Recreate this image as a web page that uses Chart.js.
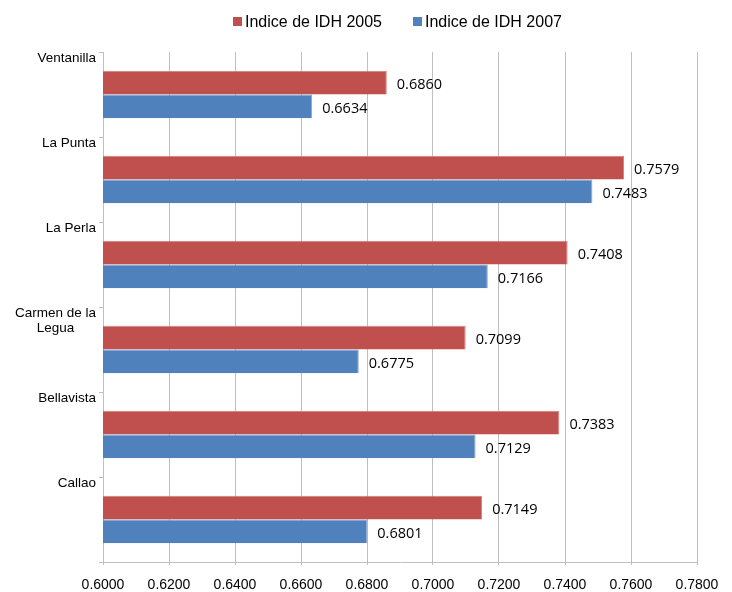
<!DOCTYPE html>
<html>
<head>
<meta charset="utf-8">
<script src="https://cdn.jsdelivr.net/npm/chart.js@4"></script>
<style>
    html, body { margin: 0; padding: 0; background: #ffffff; }
    #wrap { width: 732px; height: 592px; position: relative; }
</style>
</head>
<body>
<div id="wrap"><canvas id="idh-chart"></canvas></div>
<script>
// --- Data ---
const categories = ['Ventanilla', 'La Punta', 'La Perla', 'Carmen de la Legua', 'Bellavista', 'Callao'];
const seriesNames = ['Indice de IDH 2005', 'Indice de IDH 2007'];
const idh2005 = [0.6860, 0.7579, 0.7408, 0.7099, 0.7383, 0.7149];
const idh2007 = [0.6634, 0.7483, 0.7166, 0.6775, 0.7129, 0.6801];
const xTicks = [0.60, 0.62, 0.64, 0.66, 0.68, 0.70, 0.72, 0.74, 0.76, 0.78];

const RED = '#C0504D';
const BLUE = '#4F81BD';
const GRID = '#BFBFBF';

// split long names onto lines of at most 12 characters
function wrapLabel(text) {
    const lines = [''];
    text.split(' ').forEach(w => {
        const cur = lines[lines.length - 1];
        if (cur && (cur + ' ' + w).length > 12) lines.push(w);
        else lines[lines.length - 1] = cur ? cur + ' ' + w : w;
    });
    return lines;
}

// category names sit at the top of each band, lines centred in a right-aligned block
const categoryLabels = {
    id: 'categoryLabels',
    afterDraw(chart) {
        const ctx = chart.ctx;
        const scale = chart.scales.y;
        const band = scale.height / chart.data.labels.length;
        ctx.save();
        ctx.font = '13.5px "Liberation Sans", Arial, sans-serif';
        ctx.fillStyle = '#000000';
        ctx.textBaseline = 'middle';
        ctx.textAlign = 'center';
        chart.data.labels.forEach((name, i) => {
            const lines = wrapLabel(name);
            const widest = Math.max(...lines.map(l => ctx.measureText(l).width));
            const cx = chart.chartArea.left - 7 - widest / 2;
            const top = scale.getPixelForValue(i) - band / 2 + 6;
            lines.forEach((l, k) => ctx.fillText(l, cx, top + k * 15));
        });
        ctx.restore();
    }
};

// value labels right of each bar end
const valueLabels = {
    id: 'valueLabels',
    afterDatasetsDraw(chart) {
        const ctx = chart.ctx;
        ctx.save();
        ctx.font = '14.5px "Open Sans", sans-serif';
        ctx.fillStyle = '#000000';
        ctx.textBaseline = 'middle';
        ctx.textAlign = 'left';
        chart.data.datasets.forEach((ds, i) => {
            chart.getDatasetMeta(i).data.forEach((bar, j) => {
                ctx.fillText(ds.data[j].toFixed(4), bar.x + 10, bar.y + 2);
            });
        });
        ctx.restore();
    }
};

// legend drawn above the plot like the original (offset to the right)
const topLegend = {
    id: 'topLegend',
    afterDraw(chart) {
        const ctx = chart.ctx;
        ctx.save();
        ctx.font = '16px "Liberation Sans", Arial, sans-serif';
        ctx.textBaseline = 'middle';
        ctx.textAlign = 'left';
        let x = 233;
        const y = 22;
        chart.data.datasets.forEach(ds => {
            ctx.fillStyle = ds.backgroundColor;
            ctx.fillRect(x, y - 5, 9, 9);
            x += 12;
            ctx.fillStyle = '#000000';
            ctx.fillText(ds.label, x, y + 1);
            x += ctx.measureText(ds.label).width + 31;
        });
        ctx.restore();
    }
};

new Chart(document.getElementById('idh-chart'), {
    type: 'bar',
    data: {
        labels: categories,
        datasets: [{
            label: seriesNames[0],
            data: idh2005,
            backgroundColor: RED,
            borderColor: '#D47F7C',
            borderWidth: { top: 1, right: 1, bottom: 0, left: 0 },
            borderSkipped: 'start'
        }, {
            label: seriesNames[1],
            data: idh2007,
            backgroundColor: BLUE,
            borderColor: '#7FA3CF',
            borderWidth: { top: 1, right: 1, bottom: 0, left: 0 },
            borderSkipped: 'start'
        }]
    },
    options: {
        indexAxis: 'y',
        responsive: true,
        maintainAspectRatio: false,
        animation: false,
        devicePixelRatio: 1,
        layout: { padding: { top: 52, right: 35, bottom: 0, left: 0 } },
        categoryPercentage: 0.56,
        barPercentage: 1.0,
        plugins: {
            legend: { display: false },
            tooltip: { enabled: false }
        },
        scales: {
            x: {
                type: 'linear',
                min: xTicks[0],
                max: xTicks[xTicks.length - 1],
                afterBuildTicks(scale) {
                    scale.ticks = xTicks.map(v => ({ value: v }));
                },
                afterFit(scale) { scale.height = 30; },
                grid: { color: GRID, lineWidth: 1, tickLength: 3, drawTicks: true },
                border: { color: GRID, width: 1 },
                ticks: {
                    padding: 12,
                    color: '#000000',
                    font: { family: '"Liberation Sans", Arial, sans-serif', size: 14 },
                    maxRotation: 0,
                    callback: v => Number(v).toFixed(4)
                }
            },
            y: {
                afterFit(scale) { scale.width = 103; },
                grid: { offset: true, drawOnChartArea: false, drawTicks: true, tickLength: 4, color: GRID },
                border: { color: GRID, width: 1 },
                ticks: { display: false }
            }
        }
    },
    plugins: [categoryLabels, valueLabels, topLegend]
});
</script>
</body>
</html>
